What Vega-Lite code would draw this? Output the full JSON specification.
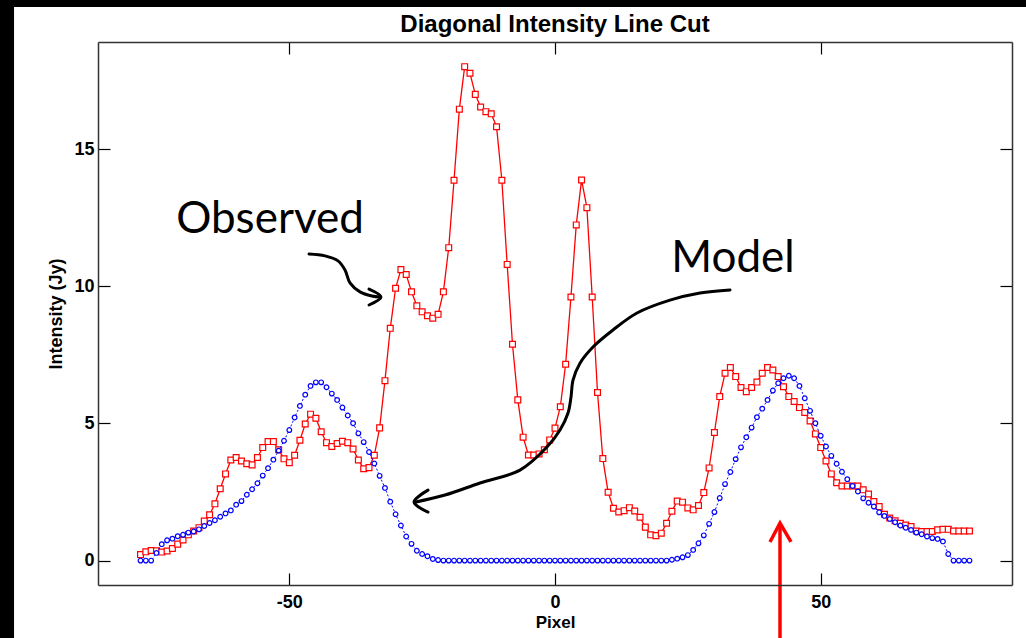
{
  "$schema": "https://vega.github.io/schema/vega-lite/v6.json",
  "width": 914,
  "height": 543,
  "autosize": {"type": "none"},
  "padding": {"left": 98, "top": 42, "right": 14, "bottom": 53},
  "background": "black",
  "config": {"view": {"stroke": null}, "font": "Liberation Sans"},
  "title": {"text": "Diagonal Intensity Line Cut", "font": "Liberation Sans", "fontSize": 24, "fontWeight": "bold", "color": "black", "anchor": "middle", "baseline": "alphabetic", "offset": 0, "dy": 49, "zindex": 1},
  "datasets": {
    "bg": [{"x": -101.8, "x2": 140, "y": 20.19, "y2": -10}],
    "observed": [
      {"x": -78, "y": 0.22}, {"x": -77, "y": 0.32}, {"x": -76, "y": 0.37}, {"x": -75, "y": 0.36}, {"x": -74, "y": 0.31},
      {"x": -73, "y": 0.35}, {"x": -72, "y": 0.44}, {"x": -71, "y": 0.6}, {"x": -70, "y": 0.75}, {"x": -69, "y": 0.94},
      {"x": -68, "y": 1.08}, {"x": -67, "y": 1.2}, {"x": -66, "y": 1.44}, {"x": -65, "y": 1.67}, {"x": -64, "y": 2.07},
      {"x": -63, "y": 2.62}, {"x": -62, "y": 3.16}, {"x": -61, "y": 3.67}, {"x": -60, "y": 3.76}, {"x": -59, "y": 3.63},
      {"x": -58, "y": 3.53}, {"x": -57, "y": 3.49}, {"x": -56, "y": 3.76}, {"x": -55, "y": 4.12}, {"x": -54, "y": 4.34},
      {"x": -53, "y": 4.34}, {"x": -52, "y": 4.04}, {"x": -51, "y": 3.71}, {"x": -50, "y": 3.57}, {"x": -49, "y": 3.84},
      {"x": -48, "y": 4.39}, {"x": -47, "y": 4.98}, {"x": -46, "y": 5.34}, {"x": -45, "y": 5.19}, {"x": -44, "y": 4.7},
      {"x": -43, "y": 4.3}, {"x": -42, "y": 4.16}, {"x": -41, "y": 4.27}, {"x": -40, "y": 4.35}, {"x": -39, "y": 4.3},
      {"x": -38, "y": 4.07}, {"x": -37, "y": 3.67}, {"x": -36, "y": 3.35}, {"x": -35, "y": 3.39}, {"x": -34, "y": 3.84},
      {"x": -33, "y": 4.84}, {"x": -32, "y": 6.56}, {"x": -31, "y": 8.47}, {"x": -30, "y": 9.93}, {"x": -29, "y": 10.61},
      {"x": -28, "y": 10.43}, {"x": -27, "y": 9.8}, {"x": -26, "y": 9.29}, {"x": -25, "y": 9.07}, {"x": -24, "y": 8.93},
      {"x": -23, "y": 8.84}, {"x": -22, "y": 8.98}, {"x": -21, "y": 9.8}, {"x": -20, "y": 11.41}, {"x": -19, "y": 13.87},
      {"x": -18, "y": 16.46}, {"x": -17, "y": 18.01}, {"x": -16, "y": 17.77}, {"x": -15, "y": 17.0}, {"x": -14, "y": 16.54},
      {"x": -13, "y": 16.37}, {"x": -12, "y": 16.29}, {"x": -11, "y": 15.82}, {"x": -10, "y": 13.87}, {"x": -9, "y": 10.8},
      {"x": -8, "y": 7.89}, {"x": -7, "y": 5.86}, {"x": -6, "y": 4.5}, {"x": -5, "y": 3.85}, {"x": -4, "y": 3.85},
      {"x": -3, "y": 3.89}, {"x": -2, "y": 4.04}, {"x": -1, "y": 4.4}, {"x": 0, "y": 4.83}, {"x": 1, "y": 5.61},
      {"x": 2, "y": 7.16}, {"x": 3, "y": 9.61}, {"x": 4, "y": 12.24}, {"x": 5, "y": 13.88}, {"x": 6, "y": 12.87},
      {"x": 7, "y": 9.61}, {"x": 8, "y": 6.13}, {"x": 9, "y": 3.72}, {"x": 10, "y": 2.49}, {"x": 11, "y": 1.91},
      {"x": 12, "y": 1.77}, {"x": 13, "y": 1.82}, {"x": 14, "y": 1.93}, {"x": 15, "y": 1.81}, {"x": 16, "y": 1.58},
      {"x": 17, "y": 1.22}, {"x": 18, "y": 0.94}, {"x": 19, "y": 0.91}, {"x": 20, "y": 1.0}, {"x": 21, "y": 1.36},
      {"x": 22, "y": 1.8}, {"x": 23, "y": 2.17}, {"x": 24, "y": 2.13}, {"x": 25, "y": 1.92}, {"x": 26, "y": 1.85},
      {"x": 27, "y": 2.01}, {"x": 28, "y": 2.48}, {"x": 29, "y": 3.38}, {"x": 30, "y": 4.67}, {"x": 31, "y": 5.98},
      {"x": 32, "y": 6.83}, {"x": 33, "y": 7.04}, {"x": 34, "y": 6.71}, {"x": 35, "y": 6.31}, {"x": 36, "y": 6.16},
      {"x": 37, "y": 6.31}, {"x": 38, "y": 6.51}, {"x": 39, "y": 6.83}, {"x": 40, "y": 7.04}, {"x": 41, "y": 6.95},
      {"x": 42, "y": 6.71}, {"x": 43, "y": 6.34}, {"x": 44, "y": 5.98}, {"x": 45, "y": 5.8}, {"x": 46, "y": 5.58},
      {"x": 47, "y": 5.4}, {"x": 48, "y": 5.09}, {"x": 49, "y": 4.62}, {"x": 50, "y": 4.12}, {"x": 51, "y": 3.63},
      {"x": 52, "y": 3.16}, {"x": 53, "y": 2.84}, {"x": 54, "y": 2.72}, {"x": 55, "y": 2.72}, {"x": 56, "y": 2.72},
      {"x": 57, "y": 2.72}, {"x": 58, "y": 2.58}, {"x": 59, "y": 2.43}, {"x": 60, "y": 2.15}, {"x": 61, "y": 1.97},
      {"x": 62, "y": 1.69}, {"x": 63, "y": 1.55}, {"x": 64, "y": 1.45}, {"x": 65, "y": 1.36}, {"x": 66, "y": 1.3},
      {"x": 67, "y": 1.24}, {"x": 68, "y": 1.08}, {"x": 69, "y": 1.06}, {"x": 70, "y": 1.06}, {"x": 71, "y": 1.06},
      {"x": 72, "y": 1.12}, {"x": 73, "y": 1.14}, {"x": 74, "y": 1.14}, {"x": 75, "y": 1.08}, {"x": 76, "y": 1.08},
      {"x": 77, "y": 1.08}, {"x": 78, "y": 1.08}
    ],
    "model": [
      {"x": -78, "y": 0}, {"x": -77, "y": 0}, {"x": -76, "y": 0}, {"x": -75, "y": 0.28}, {"x": -74, "y": 0.6},
      {"x": -73, "y": 0.74}, {"x": -72, "y": 0.8}, {"x": -71, "y": 0.89}, {"x": -70, "y": 0.94}, {"x": -69, "y": 1.02},
      {"x": -68, "y": 1.06}, {"x": -67, "y": 1.14}, {"x": -66, "y": 1.26}, {"x": -65, "y": 1.37}, {"x": -64, "y": 1.47},
      {"x": -63, "y": 1.6}, {"x": -62, "y": 1.72}, {"x": -61, "y": 1.83}, {"x": -60, "y": 2.04}, {"x": -59, "y": 2.17},
      {"x": -58, "y": 2.4}, {"x": -57, "y": 2.6}, {"x": -56, "y": 2.82}, {"x": -55, "y": 3.1}, {"x": -54, "y": 3.37},
      {"x": -53, "y": 3.68}, {"x": -52, "y": 4.01}, {"x": -51, "y": 4.37}, {"x": -50, "y": 4.76}, {"x": -49, "y": 5.22},
      {"x": -48, "y": 5.64}, {"x": -47, "y": 6.05}, {"x": -46, "y": 6.37}, {"x": -45, "y": 6.5}, {"x": -44, "y": 6.5},
      {"x": -43, "y": 6.32}, {"x": -42, "y": 6.09}, {"x": -41, "y": 5.86}, {"x": -40, "y": 5.58}, {"x": -39, "y": 5.29},
      {"x": -38, "y": 5.01}, {"x": -37, "y": 4.64}, {"x": -36, "y": 4.32}, {"x": -35, "y": 3.96}, {"x": -34, "y": 3.54},
      {"x": -33, "y": 3.09}, {"x": -32, "y": 2.65}, {"x": -31, "y": 2.15}, {"x": -30, "y": 1.69}, {"x": -29, "y": 1.28},
      {"x": -28, "y": 0.88}, {"x": -27, "y": 0.61}, {"x": -26, "y": 0.36}, {"x": -25, "y": 0.24}, {"x": -24, "y": 0.16},
      {"x": -23, "y": 0.06}, {"x": -22, "y": 0.02}, {"x": -21, "y": 0}, {"x": -20, "y": 0}, {"x": -19, "y": 0},
      {"x": -18, "y": 0}, {"x": -17, "y": 0}, {"x": -16, "y": 0}, {"x": -15, "y": 0}, {"x": -14, "y": 0},
      {"x": -13, "y": 0}, {"x": -12, "y": 0}, {"x": -11, "y": 0}, {"x": -10, "y": 0}, {"x": -9, "y": 0},
      {"x": -8, "y": 0}, {"x": -7, "y": 0}, {"x": -6, "y": 0}, {"x": -5, "y": 0}, {"x": -4, "y": 0},
      {"x": -3, "y": 0}, {"x": -2, "y": 0}, {"x": -1, "y": 0}, {"x": 0, "y": 0}, {"x": 1, "y": 0},
      {"x": 2, "y": 0}, {"x": 3, "y": 0}, {"x": 4, "y": 0}, {"x": 5, "y": 0}, {"x": 6, "y": 0},
      {"x": 7, "y": 0}, {"x": 8, "y": 0}, {"x": 9, "y": 0}, {"x": 10, "y": 0}, {"x": 11, "y": 0},
      {"x": 12, "y": 0}, {"x": 13, "y": 0}, {"x": 14, "y": 0}, {"x": 15, "y": 0}, {"x": 16, "y": 0},
      {"x": 17, "y": 0}, {"x": 18, "y": 0}, {"x": 19, "y": 0}, {"x": 20, "y": 0}, {"x": 21, "y": 0},
      {"x": 22, "y": 0.03}, {"x": 23, "y": 0.07}, {"x": 24, "y": 0.12}, {"x": 25, "y": 0.2}, {"x": 26, "y": 0.39},
      {"x": 27, "y": 0.63}, {"x": 28, "y": 0.92}, {"x": 29, "y": 1.34}, {"x": 30, "y": 1.77}, {"x": 31, "y": 2.28},
      {"x": 32, "y": 2.79}, {"x": 33, "y": 3.23}, {"x": 34, "y": 3.7}, {"x": 35, "y": 4.13}, {"x": 36, "y": 4.5},
      {"x": 37, "y": 4.85}, {"x": 38, "y": 5.23}, {"x": 39, "y": 5.54}, {"x": 40, "y": 5.86}, {"x": 41, "y": 6.2},
      {"x": 42, "y": 6.47}, {"x": 43, "y": 6.65}, {"x": 44, "y": 6.74}, {"x": 45, "y": 6.65}, {"x": 46, "y": 6.37},
      {"x": 47, "y": 5.92}, {"x": 48, "y": 5.46}, {"x": 49, "y": 5.01}, {"x": 50, "y": 4.55}, {"x": 51, "y": 4.16},
      {"x": 52, "y": 3.82}, {"x": 53, "y": 3.53}, {"x": 54, "y": 3.24}, {"x": 55, "y": 2.97}, {"x": 56, "y": 2.72},
      {"x": 57, "y": 2.52}, {"x": 58, "y": 2.27}, {"x": 59, "y": 2.11}, {"x": 60, "y": 1.97}, {"x": 61, "y": 1.76},
      {"x": 62, "y": 1.63}, {"x": 63, "y": 1.52}, {"x": 64, "y": 1.4}, {"x": 65, "y": 1.28}, {"x": 66, "y": 1.2},
      {"x": 67, "y": 1.12}, {"x": 68, "y": 1.02}, {"x": 69, "y": 0.96}, {"x": 70, "y": 0.88}, {"x": 71, "y": 0.82},
      {"x": 72, "y": 0.79}, {"x": 73, "y": 0.7}, {"x": 74, "y": 0.24}, {"x": 75, "y": 0}, {"x": 76, "y": 0},
      {"x": 77, "y": 0}, {"x": 78, "y": 0}
    ],
    "blackArrows": [
      {"seg": "big", "i": 0, "x": 32.93, "y": 9.87}, {"seg": "big", "i": 1, "x": 27.29, "y": 9.76},
      {"seg": "big", "i": 2, "x": 21.64, "y": 9.5}, {"seg": "big", "i": 3, "x": 15.43, "y": 9.03},
      {"seg": "big", "i": 4, "x": 10.91, "y": 8.41}, {"seg": "big", "i": 5, "x": 7.15, "y": 7.79},
      {"seg": "big", "i": 6, "x": 4.7, "y": 7.2}, {"seg": "big", "i": 7, "x": 3.39, "y": 6.58},
      {"seg": "big", "i": 8, "x": 3.01, "y": 5.96}, {"seg": "big", "i": 9, "x": 2.45, "y": 5.38},
      {"seg": "big", "i": 10, "x": 0.94, "y": 4.76}, {"seg": "big", "i": 11, "x": -1.51, "y": 4.14},
      {"seg": "big", "i": 12, "x": -6.59, "y": 3.3}, {"seg": "big", "i": 13, "x": -14.11, "y": 2.83},
      {"seg": "big", "i": 14, "x": -20.7, "y": 2.39}, {"seg": "big", "i": 15, "x": -26.35, "y": 2.13},
      {"seg": "bighead", "i": 0, "x": -23.9, "y": 2.57}, {"seg": "bighead", "i": 1, "x": -26.53, "y": 2.13},
      {"seg": "bighead", "i": 2, "x": -23.9, "y": 1.77},
      {"seg": "sq", "i": 0, "x": -46.29, "y": 11.18}, {"seg": "sq", "i": 1, "x": -43.28, "y": 11.11},
      {"seg": "sq", "i": 2, "x": -40.84, "y": 10.93}, {"seg": "sq", "i": 3, "x": -39.52, "y": 10.6},
      {"seg": "sq", "i": 4, "x": -38.58, "y": 10.13}, {"seg": "sq", "i": 5, "x": -36.7, "y": 9.8},
      {"seg": "sq", "i": 6, "x": -34.44, "y": 9.65}, {"seg": "sq", "i": 7, "x": -32.93, "y": 9.61},
      {"seg": "sqhead", "i": 0, "x": -35.0, "y": 9.9}, {"seg": "sqhead", "i": 1, "x": -32.74, "y": 9.61},
      {"seg": "sqhead", "i": 2, "x": -35.0, "y": 9.32}
    ],
    "redArrow": [
      {"seg": "shaft", "i": 0, "x": 42.34, "y": -3.1}, {"seg": "shaft", "i": 1, "x": 42.34, "y": 1.3},
      {"seg": "head", "i": 0, "x": 40.46, "y": 0.68}, {"seg": "head", "i": 1, "x": 42.34, "y": 1.37},
      {"seg": "head", "i": 2, "x": 44.41, "y": 0.68}
    ],
    "labels": [
      {"label": "Observed", "x": -53.63, "y": 11.95},
      {"label": "Model", "x": 33.5, "y": 10.52}
    ]
  },
  "layer": [
    {
      "data": {"name": "bg"},
      "mark": {"type": "rect", "fill": "white", "stroke": null},
      "encoding": {
        "x": {"field": "x", "type": "quantitative", "scale": {"domain": [-86, 86], "nice": false, "zero": false}, "axis": null},
        "x2": {"field": "x2"},
        "y": {"field": "y", "type": "quantitative", "scale": {"domain": [-0.89, 18.91], "nice": false, "zero": false}, "axis": null},
        "y2": {"field": "y2"}
      }
    },
    {
      "data": {"name": "observed"},
      "mark": {"type": "line", "color": "#ff0000", "strokeWidth": 1.3},
      "encoding": {
        "x": {"field": "x", "type": "quantitative", "scale": {"domain": [-86, 86], "nice": false, "zero": false},
          "axis": {"orient": "bottom", "values": [-50, 0, 50], "labelExpr": "'' + datum.value", "tickSize": -12, "tickColor": "black", "tickWidth": 1.2, "domainColor": "#333333", "domainWidth": 1.5, "grid": false, "zindex": 1,
            "labelFont": "Liberation Sans", "labelFontSize": 18, "labelFontWeight": "bold", "labelColor": "black", "labelPadding": 20,
            "title": "Pixel", "titleFont": "Liberation Sans", "titleFontSize": 17, "titleFontWeight": "bold", "titleColor": "black", "titlePadding": 3}},
        "y": {"field": "y", "type": "quantitative", "scale": {"domain": [-0.89, 18.91], "nice": false, "zero": false},
          "axis": {"orient": "left", "values": [0, 5, 10, 15], "tickSize": -12, "tickColor": "black", "tickWidth": 1.2, "domainColor": "#333333", "domainWidth": 1.5, "grid": false, "zindex": 1,
            "labelFont": "Liberation Sans", "labelFontSize": 18, "labelFontWeight": "bold", "labelColor": "black", "labelPadding": 16,
            "title": "Intensity (Jy)", "titleFont": "Liberation Sans", "titleFontSize": 18, "titleFontWeight": "bold", "titleColor": "black", "titlePadding": 8}}
      }
    },
    {
      "data": {"name": "observed"},
      "mark": {"type": "point", "shape": "square", "size": 34, "fill": "white", "fillOpacity": 1, "stroke": "#ff0000", "strokeWidth": 1.2, "opacity": 1},
      "encoding": {
        "x": {"field": "x", "type": "quantitative", "scale": {"domain": [-86, 86], "nice": false, "zero": false}, "axis": null},
        "y": {"field": "y", "type": "quantitative", "scale": {"domain": [-0.89, 18.91], "nice": false, "zero": false}, "axis": null}
      }
    },
    {
      "data": {"name": "model"},
      "mark": {"type": "line", "color": "#0000ff", "strokeWidth": 1, "strokeDash": [2, 2]},
      "encoding": {
        "x": {"field": "x", "type": "quantitative", "scale": {"domain": [-86, 86], "nice": false, "zero": false},
          "axis": {"orient": "top", "values": [-50, 0, 50], "labels": false, "title": null, "tickSize": -12, "tickColor": "black", "tickWidth": 1.2, "domainColor": "#333333", "domainWidth": 1.5, "grid": false, "zindex": 1}},
        "y": {"field": "y", "type": "quantitative", "scale": {"domain": [-0.89, 18.91], "nice": false, "zero": false},
          "axis": {"orient": "right", "values": [0, 5, 10, 15], "labels": false, "title": null, "tickSize": -12, "tickColor": "black", "tickWidth": 1.2, "domainColor": "#333333", "domainWidth": 1.5, "grid": false, "zindex": 1}}
      }
    },
    {
      "data": {"name": "model"},
      "mark": {"type": "point", "shape": "circle", "size": 22, "fill": "white", "fillOpacity": 1, "stroke": "#0000ff", "strokeWidth": 1.2, "opacity": 1},
      "encoding": {
        "x": {"field": "x", "type": "quantitative", "scale": {"domain": [-86, 86], "nice": false, "zero": false}, "axis": null},
        "y": {"field": "y", "type": "quantitative", "scale": {"domain": [-0.89, 18.91], "nice": false, "zero": false}, "axis": null}
      }
    },
    {
      "data": {"name": "blackArrows"},
      "mark": {"type": "line", "color": "black", "strokeWidth": 3, "interpolate": "catmull-rom", "strokeCap": "round", "strokeJoin": "round"},
      "encoding": {
        "x": {"field": "x", "type": "quantitative", "scale": {"domain": [-86, 86], "nice": false, "zero": false}, "axis": null},
        "y": {"field": "y", "type": "quantitative", "scale": {"domain": [-0.89, 18.91], "nice": false, "zero": false}, "axis": null},
        "detail": {"field": "seg"},
        "order": {"field": "i", "type": "quantitative"}
      }
    },
    {
      "data": {"name": "redArrow"},
      "mark": {"type": "line", "color": "#ff0000", "strokeWidth": 3.5, "strokeCap": "butt", "strokeJoin": "miter"},
      "encoding": {
        "x": {"field": "x", "type": "quantitative", "scale": {"domain": [-86, 86], "nice": false, "zero": false}, "axis": null},
        "y": {"field": "y", "type": "quantitative", "scale": {"domain": [-0.89, 18.91], "nice": false, "zero": false}, "axis": null},
        "detail": {"field": "seg"},
        "order": {"field": "i", "type": "quantitative"}
      }
    },
    {
      "data": {"name": "labels"},
      "mark": {"type": "text", "font": "Lato", "fontSize": 44, "color": "black", "align": "center", "baseline": "alphabetic"},
      "encoding": {
        "x": {"field": "x", "type": "quantitative", "scale": {"domain": [-86, 86], "nice": false, "zero": false}, "axis": null},
        "y": {"field": "y", "type": "quantitative", "scale": {"domain": [-0.89, 18.91], "nice": false, "zero": false}, "axis": null},
        "text": {"field": "label"}
      }
    }
  ],
  "resolve": {"axis": {"x": "independent", "y": "independent"}}
}
